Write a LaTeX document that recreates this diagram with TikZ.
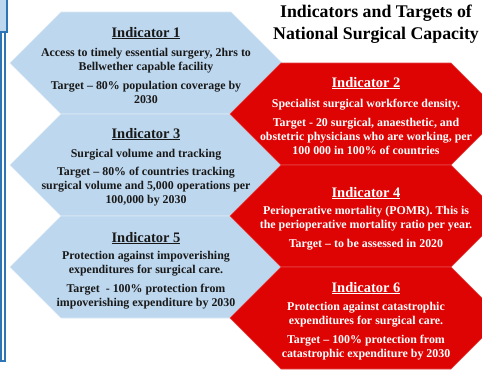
\documentclass[tikz,border=0pt]{standalone}
\usepackage{fontspec}
\setmainfont{Liberation Serif}
\definecolor{hexblue}{RGB}{189,215,238}
\definecolor{hexred}{RGB}{222,4,4}
\definecolor{frameblue}{RGB}{46,117,182}
\definecolor{darktext}{RGB}{25,25,25}

% hexagon with horizontal top/bottom edges: #1 style, #2 centre x, #3 centre y
\newcommand{\hexcell}[3]{%
  \path[#1] (#2-136,#3) -- (#2-85,#3-51) -- (#2+85,#3-51) -- (#2+136,#3)
            -- (#2+85,#3+51) -- (#2-85,#3+51) -- cycle;}

\tikzset{
  bluehex/.style={fill=hexblue, draw=hexblue!55!white, line width=0.6pt},
  redhex/.style={fill=hexred, draw=hexred!75!white, line width=0.6pt},
  heading/.style={anchor=base, inner sep=0pt, font=\bfseries\fontsize{14.5}{17}\selectfont},
  bodytext/.style={align=center, inner sep=0pt, font=\bfseries\fontsize{11.9}{14}\selectfont},
  onblue/.style={text=darktext},
  onred/.style={text=white},
  titletext/.style={align=center, inner sep=0pt, font=\bfseries\fontsize{17.8}{22}\selectfont}
}

\begin{document}
\begin{tikzpicture}[x=1pt, y=-1pt]
\useasboundingbox (0,0) rectangle (482,372);
\clip (0,0) rectangle (482,372);
\fill[white] (0,0) rectangle (482,372);

% side frame on the left
\draw[frameblue, line width=1.2pt] (1,32) rectangle (5,361);
\draw[frameblue, fill=hexblue, line width=1.2pt] (-2,-2) rectangle (7,32);

% left column (blue) and right column (red) of interlocking hexagons
\hexcell{bluehex}{146}{63}
\hexcell{bluehex}{146}{165}
\hexcell{bluehex}{146}{267}
\hexcell{redhex}{366}{114}
\hexcell{redhex}{366}{216}
\hexcell{redhex}{366}{318}

% title
\node[titletext] (title) at (376,24) {Indicators and Targets of\\National Surgical Capacity};

% indicator 1
\node[heading, onblue] (h1) at (146,37) {\underline{Indicator 1}};
\node[bodytext, onblue] (b1) at (146,75.5) {Access to timely essential surgery, 2hrs to\\Bellwether capable facility\\[5pt]Target -- 80\% population coverage by\\2030};

% indicator 3
\node[heading, onblue] (h3) at (146,138) {\underline{Indicator 3}};
\node[bodytext, onblue] (b3) at (146,178) {Surgical volume and tracking\\[4pt]Target -- 80\% of countries tracking\\surgical volume and 5,000 operations per\\100,000 by 2030};

% indicator 5
\node[heading, onblue] (h5) at (146,242) {\underline{Indicator 5}};
\node[bodytext, onblue] (b5) at (146,280.5) {Protection against impoverishing\\expenditures for surgical care.\\[5pt]Target\ \ - 100\% protection from\\impoverishing expenditure by 2030};

% indicator 2
\node[heading, onred] (h2) at (366,87) {\underline{Indicator 2}};
\node[bodytext, onred] (b2) at (366,126.5) {Specialist surgical workforce density.\\[5pt]Target - 20 surgical, anaesthetic, and\\obstetric physicians who are working, per\\100 000 in 100\% of countries};

% indicator 4
\node[heading, onred] (h4) at (366,197) {\underline{Indicator 4}};
\node[bodytext, onred] (b4) at (366,228.5) {Perioperative mortality (POMR). This is\\the perioperative mortality ratio per year.\\[5pt]Target -- to be assessed in 2020};

% indicator 6
\node[heading, onred] (h6) at (366,292) {\underline{Indicator 6}};
\node[bodytext, onred] (b6) at (366,331) {Protection against catastrophic\\expenditures for surgical care.\\[5pt]Target -- 100\% protection from\\catastrophic expenditure by 2030};
\end{tikzpicture}
\end{document}
